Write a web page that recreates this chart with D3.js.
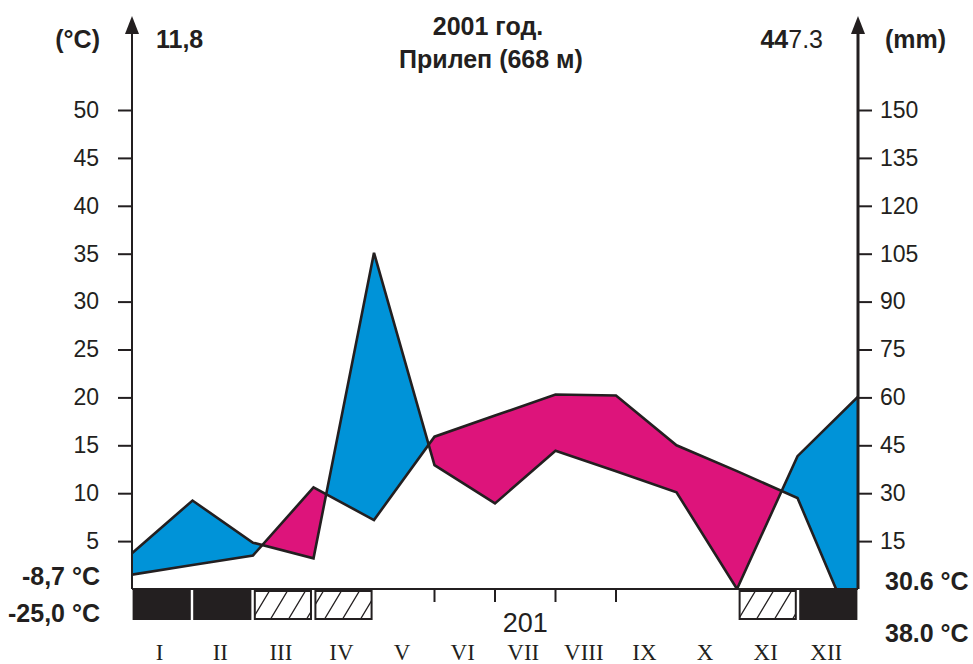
<!DOCTYPE html>
<html><head><meta charset="utf-8">
<script src="https://cdn.jsdelivr.net/npm/d3@7"></script>
<style>
body{margin:0;background:#fff}
svg{display:block}
text{font-family:"Liberation Sans",Arial,sans-serif;fill:#231f20}
</style>
</head><body><svg id="c" width="973" height="664"></svg>
<script>
// ---- data ----
const months = ["I","II","III","IV","V","VI","VII","VIII","IX","X","XI","XII"];
// values read at the 13 month boundaries (start of I ... end of XII)
const tempPoints   = [1.5, 2.5, 3.5, 10.6, 7.2, 15.9, 18.1, 20.3, 20.2, 15.0, 12.3, 9.5, -5.4];
const precipPoints = [11.2, 27.7, 14.5, 9.6, 105.3, 38.8, 26.8, 43.3, 36.9, 30.3, 0.0, 41.6, 60.2];
const tempTicks   = [5, 10, 15, 20, 25, 30, 35, 40, 45, 50];
const precipTicks = [15, 30, 45, 60, 75, 90, 105, 120, 135, 150];
const frostMonths = ["I", "II", "XII"];
const possibleFrostMonths = ["III", "IV", "XI"];
const boundaryTicks = [5, 6, 7, 8];

// ---- layout ----
const W = 973, H = 664;
const xL = 132, xR = 858, yBase = 589, yTop = 110;
const ink = "#231f20", blue = "#0093d8", pink = "#dd147b";

const svg = d3.select("#c");
const xP = d3.scaleLinear().domain([0, 12]).range([xL, xR]);
const xM = d3.scaleBand().domain(months).range([xL, xR]).paddingInner(0.04).paddingOuter(0.01);
const yT = d3.scaleLinear().domain([0, 50]).range([yBase, yTop]);
const yPr = d3.scaleLinear().domain([0, 150]).range([yBase, yTop]);

const pts = tempPoints.map((t, i) => ({i, t, p: precipPoints[i]}));

const defs = svg.append("defs");
defs.append("clipPath").attr("id", "plot").append("rect")
  .attr("x", xL).attr("y", 0).attr("width", xR - xL).attr("height", yBase);
defs.append("clipPath").attr("id", "aboveT").append("path")
  .attr("d", d3.area().x(d => xP(d.i)).y0(-100).y1(d => yT(d.t))(pts));
defs.append("clipPath").attr("id", "aboveP").append("path")
  .attr("d", d3.area().x(d => xP(d.i)).y0(-100).y1(d => yPr(d.p))(pts));

const hatch = defs.append("pattern").attr("id", "hatch")
  .attr("patternUnits", "userSpaceOnUse")
  .attr("x", 0).attr("y", yBase + 1).attr("width", 18).attr("height", 30);
hatch.append("rect").attr("width", 18).attr("height", 30).attr("fill", "#fff");
hatch.append("path").attr("d", "M0,30 L18,0 M-18,30 L0,0 M18,30 L36,0")
  .attr("stroke", ink).attr("stroke-width", 1.3);

const plot = svg.append("g").attr("clip-path", "url(#plot)");
// humid (precip above temp)
plot.append("path")
  .attr("d", d3.area().x(d => xP(d.i)).y0(d => yPr(d.p)).y1(H + 100)(pts))
  .attr("clip-path", "url(#aboveT)").attr("fill", blue);
// arid (temp above precip)
plot.append("path")
  .attr("d", d3.area().x(d => xP(d.i)).y0(d => yT(d.t)).y1(H + 100)(pts))
  .attr("clip-path", "url(#aboveP)").attr("fill", pink);
// lines
plot.append("path").attr("d", d3.line().x(d => xP(d.i)).y(d => yT(d.t))(pts))
  .attr("fill", "none").attr("stroke", ink).attr("stroke-width", 2.6).attr("stroke-linejoin", "miter");
plot.append("path").attr("d", d3.line().x(d => xP(d.i)).y(d => yPr(d.p))(pts))
  .attr("fill", "none").attr("stroke", ink).attr("stroke-width", 2.6).attr("stroke-linejoin", "miter");

// ---- frost bars ----
const bars = svg.append("g");
bars.selectAll("rect.frost").data(frostMonths).join("rect")
  .attr("x", d => xM(d)).attr("y", yBase + 1).attr("width", xM.bandwidth()).attr("height", 30)
  .attr("fill", ink);
bars.selectAll("rect.pfrost").data(possibleFrostMonths).join("rect")
  .attr("class", "pfrost")
  .attr("x", d => xM(d) + 1).attr("y", yBase + 2).attr("width", xM.bandwidth() - 2).attr("height", 28)
  .attr("fill", "url(#hatch)").attr("stroke", ink).attr("stroke-width", 2);

// ---- axes ----
const axL = svg.append("g").attr("transform", `translate(${xL},0)`)
  .call(d3.axisLeft(yT).tickValues(tempTicks).tickSize(14).tickPadding(19).tickFormat(d3.format("d")));
const axR = svg.append("g").attr("transform", `translate(${xR},0)`)
  .call(d3.axisRight(yPr).tickValues(precipTicks).tickSize(14).tickPadding(8).tickFormat(d3.format("d")));
[axL, axR].forEach(a => {
  a.select(".domain").remove();
  a.selectAll(".tick line").attr("stroke", ink).attr("stroke-width", 2);
  a.selectAll(".tick text").attr("font-size", 23).attr("font-family", "Liberation Sans, Arial, sans-serif").attr("fill", ink);
});
// vertical axis lines with arrows
svg.append("line").attr("x1", xL).attr("x2", xL).attr("y1", yBase).attr("y2", 30)
  .attr("stroke", ink).attr("stroke-width", 2);
svg.append("line").attr("x1", xR).attr("x2", xR).attr("y1", yBase).attr("y2", 30)
  .attr("stroke", ink).attr("stroke-width", 3);
[xL, xR].forEach(x => {
  svg.append("path").attr("d", `M${x},16 L${x - 7},34 L${x + 7},34 Z`).attr("fill", ink);
});
// x axis
svg.append("line").attr("x1", xL).attr("x2", xR).attr("y1", yBase).attr("y2", yBase)
  .attr("stroke", ink).attr("stroke-width", 2);
svg.selectAll("line.bt").data(boundaryTicks).join("line").attr("class", "bt")
  .attr("x1", d => xP(d)).attr("x2", d => xP(d)).attr("y1", yBase).attr("y2", yBase + 13)
  .attr("stroke", ink).attr("stroke-width", 2);

// month labels
svg.selectAll("text.m").data(months).join("text").attr("class", "m")
  .attr("x", d => xM(d) + xM.bandwidth() / 2 - 2).attr("y", 660)
  .attr("text-anchor", "middle").attr("font-size", 23)
  .style("font-family", "'Liberation Serif','Times New Roman',serif")
  .text(d => d);

// ---- texts ----
function t(x, y, s, opt = {}) {
  return svg.append("text").attr("x", x).attr("y", y)
    .attr("text-anchor", opt.anchor || "start")
    .attr("font-size", opt.size || 25)
    .attr("font-weight", opt.bold === false ? "normal" : "bold")
    .text(s);
}
t(488, 35, "2001 год.", {anchor: "middle", size: 25});
t(491, 68, "Прилеп (668 м)", {anchor: "middle", size: 25});
t(100, 48, "(°C)", {anchor: "end"});
t(156, 48, "11,8");
const tp = svg.append("text").attr("x", 823).attr("y", 48).attr("text-anchor", "end").attr("font-size", 25);
tp.append("tspan").attr("font-weight", "bold").text("44");
tp.append("tspan").text("7.3");
t(885, 48, "(mm)");
t(100, 585, "-8,7 °C", {anchor: "end"});
t(100, 622, "-25,0 °C", {anchor: "end"});
t(885, 590, "30.6 °C");
t(885, 642, "38.0 °C");
t(xM("VII") + xM.bandwidth() / 2, 632, "201", {anchor: "middle", size: 27, bold: false});
</script>
</body></html>
